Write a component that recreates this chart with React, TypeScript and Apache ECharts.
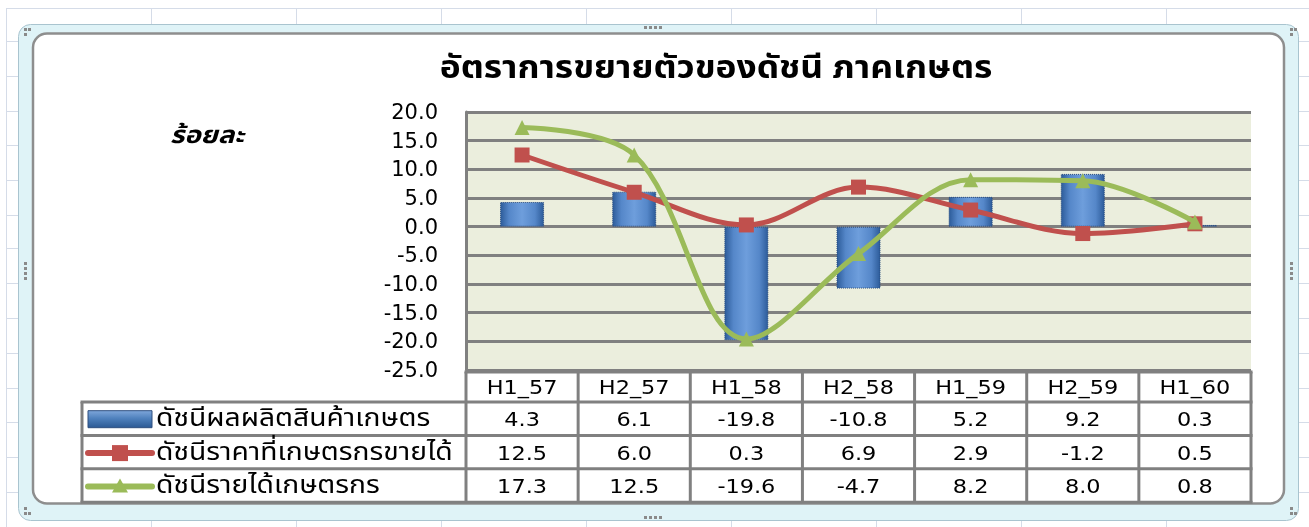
import React, { useEffect, useRef } from "react";
import * as echarts from "echarts";

const categories = ["H1_57", "H2_57", "H1_58", "H2_58", "H1_59", "H2_59", "H1_60"];
const productionIndex = [4.3, 6.1, -19.8, -10.8, 5.2, 9.2, 0.3];
const priceIndex = [12.5, 6.0, 0.3, 6.9, 2.9, -1.2, 0.5];
const incomeIndex = [17.3, 12.5, -19.6, -4.7, 8.2, 8.0, 0.8];
const seriesNames = [
  "ดัชนีผลผลิตสินค้าเกษตร",
  "ดัชนีราคาที่เกษตรกรขายได้",
  "ดัชนีรายได้เกษตรกร",
];
const titleText = "อัตราการขยายตัวของดัชนี ภาคเกษตร";
const unitText = "ร้อยละ";
const yMin = -25;
const yMax = 20;
const yStep = 5;

const W = 1309;
const H = 527;
const PLOT_L = 466;
const PLOT_R = 1251;
const PLOT_T = 112;
const PLOT_B = 370;
const THAI = "Tahoma, 'Noto Sans Thai', Loma, Garuda, 'DejaVu Sans', sans-serif";
const NUM = "'DejaVu Sans', Tahoma, sans-serif";
const RED = "#C0504D";
const GREEN = "#9BBB59";
const TABLE_LINE = "#808080";

function buildGraphics() {
  const els: any[] = [];
  // Excel sheet grid
  const vx = [6, 151, 296, 441, 586, 731, 876, 1021, 1166];
  const hy = [8, 41, 76, 111, 145, 180, 215, 248, 283, 318, 353, 388, 422, 457, 492];
  vx.forEach((x) =>
    els.push({ type: "line", z: -20, shape: { x1: x + 0.5, y1: 8, x2: x + 0.5, y2: H }, style: { stroke: "#D5DCE8", lineWidth: 1 } })
  );
  hy.forEach((y) =>
    els.push({ type: "line", z: -20, shape: { x1: 6, y1: y + 0.5, x2: W, y2: y + 0.5 }, style: { stroke: "#D5DCE8", lineWidth: 1 } })
  );
  // selection frame
  els.push({
    type: "rect", z: -19,
    shape: { x: 18.5, y: 24.5, width: 1280, height: 496, r: 12 },
    style: { fill: "#DFF3F7", stroke: "#A9C4CF", lineWidth: 1 },
  });
  // chart area
  els.push({
    type: "rect", z: -18,
    shape: { x: 33, y: 33.5, width: 1251, height: 470, r: 14 },
    style: { fill: "#FFFFFF", stroke: "#8E8E8E", lineWidth: 2.5 },
  });
  // handles
  const dot = (x: number, y: number) =>
    els.push({ type: "rect", z: -17, shape: { x, y, width: 3, height: 3 }, style: { fill: "#8A8A8A" } });
  [644, 649, 654, 659].forEach((x) => { dot(x, 26); dot(x, 516); });
  [262, 267, 272, 277].forEach((y) => { dot(24, y); dot(1290, y); });
  [[24, 28], [28, 28], [24, 33], [1290, 28], [1294, 28], [1290, 33], [24, 512], [28, 512], [24, 507], [1290, 512], [1294, 512], [1290, 507]].forEach(
    ([x, y]) => dot(x, y)
  );

  // title & unit
  els.push({
    type: "text", z: 50, x: 716, y: 69, scaleX: 1.14,
    style: { text: titleText, font: `bold 31px ${THAI}`, fill: "#000", align: "center", verticalAlign: "middle" },
  });
  els.push({
    type: "text", z: 50, x: 207, y: 136, scaleX: 1.15,
    style: { text: unitText, font: `italic bold 24px ${THAI}`, fill: "#000", align: "center", verticalAlign: "middle" },
  });

  // data table
  const n = categories.length;
  const colW = (PLOT_R - PLOT_L) / n;
  const headTop = 372;
  const headB = 402;
  const rowH = 33.4;
  const tableLeft = 82;
  const rows = [productionIndex, priceIndex, incomeIndex];
  const bottom = headB + rowH * rows.length;
  const line = (x1: number, y1: number, x2: number, y2: number) =>
    els.push({ type: "line", z: 60, shape: { x1, y1, x2, y2 }, style: { stroke: TABLE_LINE, lineWidth: 3 } });
  line(PLOT_L - 1.5, headTop, PLOT_R + 1.5, headTop);
  for (let r = 0; r <= rows.length; r++) {
    line(tableLeft - 1.5, headB + rowH * r, PLOT_R + 1.5, headB + rowH * r);
  }
  line(tableLeft, headB, tableLeft, bottom);
  for (let c = 0; c <= n; c++) {
    line(PLOT_L + colW * c, headTop, PLOT_L + colW * c, bottom);
  }
  categories.forEach((cat, c) =>
    els.push({
      type: "text", z: 61, x: PLOT_L + colW * (c + 0.5), y: (headTop + headB) / 2 + 1, scaleX: 1.18,
      style: { text: cat, font: `19px ${NUM}`, fill: "#000", align: "center", verticalAlign: "middle" },
    })
  );
  rows.forEach((vals, r) => {
    const cy = headB + rowH * (r + 0.5) + 1;
    vals.forEach((v, c) =>
      els.push({
        type: "text", z: 61, x: PLOT_L + colW * (c + 0.5), y: cy, scaleX: 1.18,
        style: { text: v.toFixed(1), font: `19px ${NUM}`, fill: "#000", align: "center", verticalAlign: "middle" },
      })
    );
    els.push({
      type: "text", z: 61, x: 156, y: cy - 1, scaleX: 1.13,
      style: { text: seriesNames[r], font: `25px ${THAI}`, fill: "#000", align: "left", verticalAlign: "middle" },
    });
    if (r === 0) {
      els.push({
        type: "rect", z: 61, shape: { x: 88, y: cy - 9, width: 64, height: 17 },
        style: {
          fill: new echarts.graphic.LinearGradient(0, 0, 0, 1, [
            { offset: 0, color: "#7EA6DA" },
            { offset: 0.45, color: "#4F81BD" },
            { offset: 1, color: "#2C5A94" },
          ]),
          stroke: "#2F4F7F", lineWidth: 1,
        },
      });
    } else {
      const col = r === 1 ? RED : GREEN;
      els.push({ type: "line", z: 61, shape: { x1: 88, y1: cy, x2: 152, y2: cy }, style: { stroke: col, lineWidth: 6, lineCap: "round" } });
      if (r === 1) {
        els.push({ type: "rect", z: 62, shape: { x: 112, y: cy - 8, width: 16, height: 16 }, style: { fill: col } });
      } else {
        els.push({
          type: "polygon", z: 62,
          shape: { points: [[120, cy - 8], [128, cy + 6], [112, cy + 6]] },
          style: { fill: col },
        });
      }
    }
  });
  return els;
}

export default function App() {
  const ref = useRef<HTMLDivElement>(null);
  useEffect(() => {
    if (!ref.current) return;
    const chart = echarts.init(ref.current, null, { renderer: "svg" });
    const barGrad = new echarts.graphic.LinearGradient(1, 0, 0, 0, [
      { offset: 0, color: "#2D5C9A" },
      { offset: 0.2, color: "#5587C9" },
      { offset: 0.5, color: "#6E9EDC" },
      { offset: 0.8, color: "#5587C9" },
      { offset: 1, color: "#2D5C9A" },
    ]);
    chart.setOption({
      animation: false,
      backgroundColor: "transparent",
      grid: {
        left: PLOT_L,
        right: W - PLOT_R,
        top: PLOT_T,
        bottom: H - PLOT_B,
        show: true,
        backgroundColor: "#EBEEDD",
        borderWidth: 0,
      },
      xAxis: {
        type: "category",
        data: categories,
        boundaryGap: true,
        axisLine: { show: false },
        axisTick: { show: false },
        axisLabel: { show: false },
        splitLine: { show: false },
      },
      yAxis: {
        type: "value",
        min: yMin,
        max: yMax,
        interval: yStep,
        axisLine: { show: true, lineStyle: { color: TABLE_LINE, width: 3 } },
        axisTick: { show: false },
        axisLabel: {
          formatter: (v: number) => v.toFixed(1),
          fontSize: 21,
          fontFamily: NUM,
          color: "#000",
          margin: 28,
        },
        splitLine: { show: true, lineStyle: { color: TABLE_LINE, width: 3 } },
      },
      series: [
        {
          name: seriesNames[0],
          type: "bar",
          data: productionIndex,
          barWidth: 44,
          itemStyle: { color: barGrad, borderColor: "#2A4D80", borderWidth: 1, borderType: "dotted" },
          z: 3,
        },
        {
          name: seriesNames[1],
          type: "line",
          data: priceIndex,
          smooth: 0.35,
          symbol: "rect",
          symbolSize: 15,
          lineStyle: { color: RED, width: 5 },
          itemStyle: { color: RED },
          z: 4,
        },
        {
          name: seriesNames[2],
          type: "line",
          data: incomeIndex,
          smooth: 0.35,
          symbol: "triangle",
          symbolSize: 15,
          lineStyle: { color: GREEN, width: 5 },
          itemStyle: { color: GREEN },
          z: 5,
        },
      ],
      graphic: { elements: buildGraphics() },
    });
    return () => chart.dispose();
  }, []);
  return <div ref={ref} style={{ position: "fixed", left: 0, top: 0, width: W, height: H }} />;
}
